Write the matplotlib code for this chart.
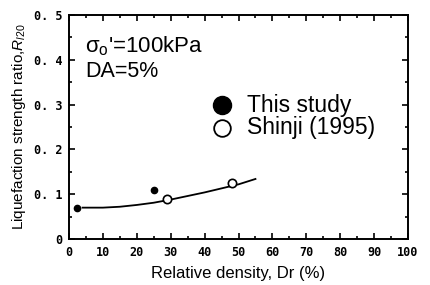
import matplotlib
matplotlib.use('Agg')
import matplotlib.pyplot as plt
from matplotlib.ticker import MultipleLocator

plt.rcParams['mathtext.fontset'] = 'custom'
plt.rcParams['mathtext.rm'] = 'Liberation Sans'
plt.rcParams['mathtext.it'] = 'Liberation Sans:italic'

# data
this_dr = [2.5, 25.0]
this_r = [0.070, 0.110]
shinji_dr = [29.0, 48.0]
shinji_r = [0.090, 0.124]
curve_dr = [4, 10, 15, 20, 25, 30, 35, 40, 45, 50, 55]
curve_r = [0.070, 0.070, 0.072, 0.076, 0.081, 0.088, 0.096, 0.104, 0.113, 0.122, 0.134]

xticks = list(range(0, 101, 10))
yticks = [0, 0.1, 0.2, 0.3, 0.4, 0.5]
ylabels = ['0', '0. 1', '0. 2', '0. 3', '0. 4', '0. 5']

fig = plt.figure(figsize=(4.3, 2.85), dpi=100)
ax = fig.add_axes([69/430, 1 - 239/285, (408 - 69)/430, (239 - 15)/285])

ax.plot(curve_dr, curve_r, color='black', lw=1.3)
ax.plot(this_dr, this_r, 'o', color='black', ms=4.5)
ax.plot(shinji_dr, shinji_r, 'o', mfc='white', mec='black', mew=1.2, ms=6)

ax.set_xlim(0, 100)
ax.set_ylim(0, 0.5)
ax.set_xticks(xticks)
ax.set_yticks(yticks)
ax.set_xticklabels([str(v) for v in xticks], family='DejaVu Sans Mono', weight='bold', fontsize=8.5)
ax.set_yticklabels(ylabels, family='DejaVu Sans Mono', weight='bold', fontsize=8.5)
ax.xaxis.set_minor_locator(MultipleLocator(5))
ax.yaxis.set_minor_locator(MultipleLocator(0.05))
ax.tick_params(which='both', direction='in', top=True, right=True, width=1.2)
ax.tick_params(which='major', length=4, pad=5)
ax.tick_params(which='minor', length=2)
for s in ax.spines.values():
    s.set_linewidth(1.4)

ax.set_xlabel('Relative density, Dr (%)', fontsize=12, family='Liberation Sans', labelpad=5)
ax.set_ylabel(r'Liquefaction strength ratio,$R_{l20}$', fontsize=11, family='Liberation Sans', labelpad=4)

ax.text(0.047, 0.835, r"$\mathrm{\sigma}_\mathrm{o}$'=100kPa", transform=ax.transAxes, fontsize=16,
        va='baseline', family='Liberation Sans')
ax.text(0.047, 0.725, 'DA=5%', transform=ax.transAxes, fontsize=15.5, va='baseline', family='Liberation Sans')

ax.plot([0.451], [0.598], 'o', color='black', ms=13, transform=ax.transAxes, clip_on=False)
ax.text(0.525, 0.598, 'This study', transform=ax.transAxes, fontsize=16.5, va='center', family='Liberation Sans')
ax.plot([0.451], [0.496], 'o', mfc='white', mec='black', mew=1.3, ms=12, transform=ax.transAxes, clip_on=False)
ax.text(0.525, 0.496, 'Shinji (1995)', transform=ax.transAxes, fontsize=16.5, va='center', family='Liberation Sans')

fig.savefig('out.png', dpi=100)
